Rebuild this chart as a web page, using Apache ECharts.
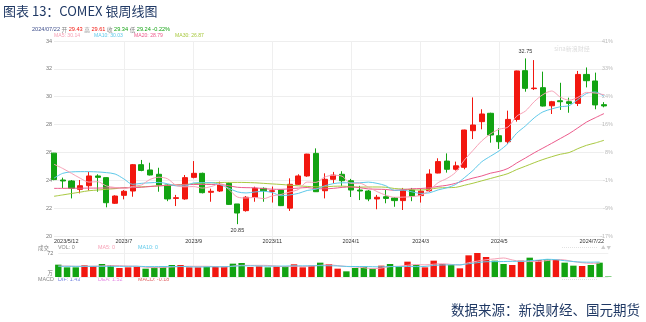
<!DOCTYPE html>
<html>
<head>
<meta charset="utf-8">
<script src="https://cdn.jsdelivr.net/npm/echarts@6/dist/echarts.min.js"></script>
<style>
html,body{margin:0;padding:0;background:#fff;}
#c{width:646px;height:322px;}
</style>
</head>
<body>
<div id="c"></div>
<script>
// COMEX silver, weekly bars (one candle per week, last one is the current week)
const weeks = [
  '2023/5/12','2023/5/19','2023/5/26','2023/6/2','2023/6/9','2023/6/16','2023/6/23','2023/6/30',
  '2023/7/7','2023/7/14','2023/7/21','2023/7/28','2023/8/4','2023/8/11','2023/8/18','2023/8/25',
  '2023/9/1','2023/9/8','2023/9/15','2023/9/22','2023/9/29','2023/10/6','2023/10/13','2023/10/20',
  '2023/10/27','2023/11/3','2023/11/10','2023/11/17','2023/11/24','2023/12/1','2023/12/8','2023/12/15',
  '2023/12/22','2023/12/29','2024/1/5','2024/1/12','2024/1/19','2024/1/26','2024/2/2','2024/2/9',
  '2024/2/16','2024/2/23','2024/3/1','2024/3/8','2024/3/15','2024/3/22','2024/3/29','2024/4/5',
  '2024/4/12','2024/4/19','2024/4/26','2024/5/3','2024/5/10','2024/5/17','2024/5/24','2024/5/31',
  '2024/6/7','2024/6/14','2024/6/21','2024/6/28','2024/7/5','2024/7/12','2024/7/19','2024/7/22'
];

const opens = [
  25.95,24.02,23.95,23.35,23.61,24.31,24.19,22.35,22.92,23.23,
  25.12,24.74,24.43,23.66,22.70,22.66,24.21,24.50,23.14,23.23,
  23.78,22.30,21.82,22.78,23.42,23.20,23.30,22.00,23.71,24.31,
  25.93,23.25,24.07,24.43,23.97,23.30,23.23,22.66,22.82,22.73,
  22.54,23.30,22.90,23.25,24.52,25.38,24.79,24.93,27.56,28.21,
  28.81,27.20,26.77,28.37,31.87,30.58,30.65,29.35,29.71,29.64,
  29.52,31.60,31.13,29.43
];
const closes = [
  24.05,23.95,23.42,23.61,24.31,24.21,22.39,22.87,23.21,25.12,
  24.71,24.38,23.66,22.66,22.75,24.19,24.50,23.11,23.21,23.71,
  22.27,21.65,22.78,23.42,23.25,23.25,22.18,23.71,24.31,25.88,
  23.18,24.07,24.37,23.97,23.30,23.23,22.66,22.78,22.70,22.54,
  23.28,22.87,23.22,24.45,25.34,24.79,25.04,27.61,27.97,28.76,
  27.25,26.77,28.37,31.85,30.60,30.62,29.33,29.64,29.64,29.52,
  31.60,31.15,29.41,29.34
];
const lows = [
  24.00,23.45,22.70,23.06,23.26,23.18,22.06,22.30,22.63,22.82,
  24.65,24.35,23.18,22.50,22.15,22.60,24.14,23.06,22.46,23.16,
  22.23,20.85,21.75,22.46,22.46,22.40,22.15,21.80,23.66,24.25,
  23.16,22.70,23.78,23.60,22.80,22.58,22.50,21.92,22.35,22.10,
  21.87,22.50,22.40,23.18,24.50,24.55,24.70,24.79,26.96,27.66,
  26.70,26.25,26.60,28.21,30.36,30.48,29.30,28.76,29.05,28.85,
  29.33,30.67,29.10,29.24
];
const highs = [
  25.97,24.19,24.02,24.02,24.60,24.43,24.22,22.92,23.30,25.17,
  25.46,25.26,24.90,23.70,22.95,24.38,25.38,24.55,23.40,23.90,
  23.85,22.30,22.87,23.54,23.49,23.55,23.30,24.14,24.43,25.90,
  26.29,24.50,24.60,24.65,24.10,23.60,23.30,22.95,23.30,22.80,
  23.45,23.45,23.40,24.79,25.58,25.93,25.34,27.63,29.95,29.10,
  28.85,27.73,29.00,31.87,32.75,32.63,31.80,29.70,31.00,29.93,
  31.85,32.10,31.73,29.61
];

const ma5 = [
  25.15,24.85,24.50,24.15,23.87,23.90,23.59,23.48,23.40,23.56,
  23.66,24.06,24.22,24.11,23.63,23.53,23.55,23.44,23.55,23.74,
  23.36,22.80,22.73,22.77,22.68,22.88,22.98,23.16,23.34,23.87,
  23.85,24.23,24.36,24.29,23.78,23.79,23.51,23.19,22.93,22.78,
  22.79,22.83,22.92,23.27,23.83,24.13,24.57,25.45,26.15,26.83,
  27.33,27.67,27.82,28.60,28.97,29.64,30.15,30.41,29.97,29.75,
  29.95,30.31,30.26,30.14
];
const ma10 = [
  24.15,24.50,24.60,24.62,24.62,24.60,24.55,24.45,24.10,23.71,
  23.78,23.82,23.85,23.75,23.60,23.59,23.81,23.83,23.83,23.69,
  23.44,23.17,23.09,23.16,23.21,23.12,22.89,22.95,23.06,23.27,
  23.36,23.60,23.76,23.82,23.82,23.82,23.87,23.78,23.61,23.28,
  23.29,23.17,23.06,23.10,23.31,23.46,23.70,24.18,24.71,25.33,
  25.73,26.12,26.64,27.38,27.90,28.48,28.91,29.12,29.28,29.36,
  29.79,30.23,30.34,30.03
];
const ma20 = [
  23.42,23.42,23.43,23.43,23.44,23.44,23.45,23.45,23.46,23.47,
  23.50,23.55,23.60,23.64,23.66,23.68,23.70,23.70,23.70,23.70,
  23.61,23.50,23.47,23.46,23.40,23.36,23.35,23.39,23.44,23.48,
  23.40,23.39,23.42,23.49,23.52,23.47,23.38,23.36,23.34,23.28,
  23.33,23.39,23.41,23.46,23.56,23.64,23.78,23.98,24.16,24.31,
  24.51,24.64,24.85,25.24,25.60,25.97,26.31,26.65,27.00,27.35,
  27.76,28.18,28.49,28.79
];
const ma30 = [
  22.85,22.95,23.05,23.15,23.25,23.30,23.35,23.40,23.45,23.50,
  23.53,23.56,23.60,23.63,23.66,23.70,23.75,23.80,23.82,23.84,
  23.85,23.85,23.84,23.82,23.78,23.74,23.70,23.65,23.60,23.56,
  23.53,23.53,23.57,23.58,23.54,23.51,23.52,23.52,23.50,23.41,
  23.37,23.32,23.30,23.36,23.45,23.47,23.49,23.64,23.79,23.96,
  24.13,24.30,24.48,24.77,25.01,25.26,25.49,25.69,25.87,25.99,
  26.27,26.51,26.68,26.87
];

// weekly volume, in 万 contracts
const volumes = [
  37,29,29,35,33,39,36,27,29,30,
  25,29,31,36,36,29,29,31,31,31,
  40,42,30,32,29,31,32,38,29,34,
  43,39,25,17,27,31,25,34,39,32,
  46,36,29,49,39,36,26,65,72,60,
  49,39,36,49,58,51,53,51,43,34,
  33,36,43,1.5
];
const volMa5 = [
  33,33,32,32,32.6,33.0,34.4,34.0,32.8,32.2,
  29.4,28.0,28.8,30.2,31.4,32.2,32.2,32.2,31.2,30.2,
  32.4,35.0,34.8,35.0,34.6,32.8,30.8,32.4,31.8,32.8,
  35.2,36.6,34.0,31.6,30.2,27.8,25.0,26.8,31.2,32.2,
  35.2,37.4,36.4,38.4,39.8,37.8,35.8,43.0,47.6,51.8,
  54.4,57.0,51.2,46.6,46.2,46.6,49.4,52.4,51.2,46.4,
  42.8,41.0,41.0,null
];
const volMa10 = [
  32,32,32,32,32,32,32,32,32,32.4,
  31.2,31.2,31.4,31.5,31.8,30.8,30.1,30.5,30.7,30.8,
  32.3,33.6,33.5,33.1,32.4,32.6,32.9,33.6,33.4,33.7,
  34.0,33.7,33.2,31.7,31.5,31.5,30.8,30.4,31.4,31.2,
  31.5,31.2,31.6,34.8,36.0,36.5,36.6,39.7,43.0,45.8,
  46.1,46.4,47.1,47.1,49.0,50.5,53.2,51.8,48.9,46.3,
  44.7,44.4,45.1,null
];

// axis texts
const priceTicks = [20,22,24,26,28,30,32,34];
const pctTicks = ['-17%','-9%','-1%','8%','16%','24%','33%','41%'];
const dateTickIdx = [0,8,16,25,34,42,51,63];
const dateTickText = ['2023/5/12','2023/7','2023/9','2023/11','2024/1','2024/3','2024/5','2024/7/22'];
const lastChange = '-0.22%';
const macdVals = { dif: '1.43', dea: '1.52', macd: '-0.18' };

const RED = '#f2170f', GREEN = '#12a312';
const C_MA5 = '#f7a1b6', C_MA10 = '#5ec9ea', C_MA20 = '#ec5b8c', C_MA30 = '#a9c941';
const FONT = "'Liberation Sans','Noto Sans CJK SC',sans-serif";
const CJK = "'Noto Sans CJK SC','Liberation Sans',sans-serif";

const last = weeks.length - 1;
const candles = weeks.map((w, i) => [opens[i], closes[i], lows[i], highs[i]]);
const hiIdx = highs.indexOf(Math.max(...highs));
const loIdx = lows.indexOf(Math.min(...lows));

function txt(x, y, text, fill, size, align, family) {
  return {
    type: 'text', x: x, y: y, silent: true,
    style: {
      text: text, fill: fill, font: size + 'px ' + (family || FONT),
      align: align || 'left', verticalAlign: 'middle',
      textAlign: align || 'left', textVerticalAlign: 'middle'
    }
  };
}
function richTxt(x, y, text, size, rich) {
  return {
    type: 'text', x: x, y: y, silent: true,
    style: {
      text: text, font: size + 'px ' + FONT, fill: '#888', rich: rich,
      align: 'left', verticalAlign: 'middle', textAlign: 'left', textVerticalAlign: 'middle'
    }
  };
}

const quoteRich = {
  d: { fill: '#3f4f8c', fontSize: 5.6, fontFamily: FONT },
  k: { fill: '#888888', fontSize: 5.6, fontFamily: CJK },
  u: { fill: RED, fontSize: 5.6, fontFamily: FONT },
  g: { fill: GREEN, fontSize: 5.6, fontFamily: FONT }
};
const quoteText =
  '{d|' + weeks[last].replace(/\/(\d)(?=\/|$)/g, '/0$1') + '} {k|开} {u|' + opens[last].toFixed(2) +
  '} {k|高} {u|' + highs[last].toFixed(2) + '} {k|收} {g|' + closes[last].toFixed(2) +
  '} {k|低} {g|' + lows[last].toFixed(2) + '} {g|' + lastChange + '}';

const option = {
  animation: false,
  backgroundColor: '#ffffff',
  grid: [
    { left: 54, top: 41, width: 550, height: 195, outerBoundsMode: 'none' },
    { left: 58.3, top: 253, width: 550, height: 24, outerBoundsMode: 'none' },
    { left: 54, top: 41, width: 550, height: 236, outerBoundsMode: 'none' }
  ],
  xAxis: [
    {
      type: 'category', gridIndex: 0, data: weeks, boundaryGap: false,
      axisLine: { show: false }, axisTick: { show: false }, splitLine: { show: false },
      axisLabel: {
        interval: (i) => dateTickIdx.indexOf(i) >= 0,
        formatter: (v, i) => { const k = dateTickIdx.indexOf(i); return k >= 0 ? dateTickText[k] : ''; },
        color: '#333', fontSize: 5.5, fontFamily: FONT, margin: 3,
        showMinLabel: true, showMaxLabel: true,
        alignMinLabel: 'left', alignMaxLabel: 'right'
      }
    },
    {
      type: 'category', gridIndex: 1, data: weeks, boundaryGap: false, show: false
    },
    {
      type: 'category', gridIndex: 2, data: weeks, boundaryGap: false,
      axisLine: { show: false }, axisTick: { show: false }, axisLabel: { show: false },
      splitLine: {
        show: true,
        interval: (i) => i > 0 && i < last && dateTickIdx.indexOf(i) >= 0,
        lineStyle: { color: '#efefef', width: 1 }
      }
    }
  ],
  yAxis: [
    {
      type: 'value', gridIndex: 0, min: priceTicks[0], max: priceTicks[priceTicks.length - 1], interval: 2,
      axisLine: { show: false }, axisTick: { show: false },
      axisLabel: { color: '#777', fontSize: 5.5, fontFamily: FONT, margin: 2 },
      splitLine: { lineStyle: { color: '#eeeeee', width: 1 } }
    },
    {
      type: 'value', gridIndex: 0, position: 'right', min: priceTicks[0], max: priceTicks[priceTicks.length - 1], interval: 2,
      axisLine: { show: false }, axisTick: { show: false }, splitLine: { show: false },
      axisLabel: {
        color: '#bbbbbb', fontSize: 5.5, fontFamily: FONT, margin: 9, align: 'right',
        formatter: (v) => { const k = priceTicks.indexOf(Math.round(v)); return k >= 0 ? pctTicks[k] : ''; }
      }
    },
    {
      type: 'value', gridIndex: 1, min: 0, max: 72, interval: 72,
      axisLine: { show: false }, axisTick: { show: false },
      axisLabel: { color: '#777', fontSize: 5.5, fontFamily: FONT, margin: 5, formatter: (v) => v === 72 ? '72' : '' },
      splitLine: { lineStyle: { color: '#f0f0f0', width: 1 } }
    },
    {
      type: 'value', gridIndex: 2, show: false, splitLine: { show: false }
    }
  ],
  series: [
    {
      name: 'K', type: 'candlestick', xAxisIndex: 0, yAxisIndex: 0, data: candles,
      barWidth: 5.6, clip: true,
      itemStyle: { color: RED, color0: GREEN, borderColor: RED, borderColor0: GREEN, borderWidth: 1 },
      markPoint: {
        symbol: 'circle', symbolSize: 2,
        itemStyle: { color: 'rgba(0,0,0,0)' },
        label: { show: true, color: '#333', fontSize: 5.5, fontFamily: FONT },
        data: [
          { coord: [weeks[hiIdx], highs[hiIdx]], value: highs[hiIdx],
            label: { position: 'top', distance: 3, formatter: highs[hiIdx].toFixed(2) } },
          { coord: [weeks[loIdx], lows[loIdx]], value: lows[loIdx],
            label: { position: 'bottom', distance: 3, formatter: lows[loIdx].toFixed(2) } }
        ]
      }
    },
    { name: 'MA30', type: 'line', xAxisIndex: 0, yAxisIndex: 0, data: ma30, symbol: 'none', smooth: 0.3,
      lineStyle: { color: C_MA30, width: 1 } },
    { name: 'MA20', type: 'line', xAxisIndex: 0, yAxisIndex: 0, data: ma20, symbol: 'none', smooth: 0.3,
      lineStyle: { color: C_MA20, width: 1 } },
    { name: 'MA10', type: 'line', xAxisIndex: 0, yAxisIndex: 0, data: ma10, symbol: 'none', smooth: 0.3,
      lineStyle: { color: C_MA10, width: 1 } },
    { name: 'MA5', type: 'line', xAxisIndex: 0, yAxisIndex: 0, data: ma5, symbol: 'none', smooth: 0.3,
      lineStyle: { color: C_MA5, width: 1 } },
    {
      name: 'VOL', type: 'bar', xAxisIndex: 1, yAxisIndex: 2, barWidth: 6.4,
      data: volumes.map((v, i) => ({ value: v, itemStyle: { color: closes[i] >= opens[i] ? RED : GREEN } }))
    },
    { name: 'VMA5', type: 'line', xAxisIndex: 1, yAxisIndex: 2, data: volMa5, symbol: 'none', smooth: 0.3,
      lineStyle: { color: C_MA5, width: 1 } },
    { name: 'VMA10', type: 'line', xAxisIndex: 1, yAxisIndex: 2, data: volMa10, symbol: 'none', smooth: 0.3,
      lineStyle: { color: C_MA10, width: 1 } }
  ],
  graphic: [
    txt(3, 11, '图表 13：COMEX 银周线图', '#1f3864', 13, 'left', CJK),
    richTxt(32, 29.5, quoteText, 5.6, quoteRich),
    txt(54, 35.5, 'MA5: ' + ma5[last].toFixed(2), C_MA5, 5.1),
    txt(94, 35.5, 'MA10: ' + ma10[last].toFixed(2), C_MA10, 5.1),
    txt(134, 35.5, 'MA20: ' + ma20[last].toFixed(2), C_MA20, 5.1),
    txt(175, 35.5, 'MA30: ' + ma30[last].toFixed(2), C_MA30, 5.1),
    txt(572, 49, 'sina新浪财经', '#dddddd', 6, 'center', CJK),
    txt(38, 247.5, '成交', '#888', 5.4, 'left', CJK),
    txt(58, 247.5, 'VOL: 0', '#888', 5.4),
    txt(98, 247.5, 'MA5: 0', C_MA5, 5.4),
    txt(138, 247.5, 'MA10: 0', C_MA10, 5.4),
    txt(53, 273, '万', '#777', 5.4, 'right', CJK),
    txt(38, 279.5, 'MACD', '#888', 5.4),
    txt(58, 279.5, 'DIF: ' + macdVals.dif, '#7080e0', 5.4),
    txt(98, 279.5, 'DEA: ' + macdVals.dea, '#e48ae4', 5.4),
    txt(138, 279.5, 'MACD: ' + macdVals.macd, '#e06464', 5.4),
    {
      type: 'line', silent: true,
      shape: { x1: 562, y1: 247.5, x2: 598, y2: 247.5 },
      style: { stroke: '#e2e2e2', lineWidth: 1, lineDash: [1, 1] }
    },
    txt(606, 247.5, '▲ ▼', '#cccccc', 4.5, 'center', CJK),
    {
      type: 'line', silent: true,
      shape: { x1: 562, y1: 279.5, x2: 598, y2: 279.5 },
      style: { stroke: '#e2e2e2', lineWidth: 1, lineDash: [1, 1] }
    },
    txt(640, 310, '数据来源：新浪财经、国元期货', '#1f3864', 13.5, 'right', CJK)
  ]
};

const chart = echarts.init(document.getElementById('c'), null, { renderer: 'canvas' });
chart.setOption(option);
</script>
</body>
</html>
